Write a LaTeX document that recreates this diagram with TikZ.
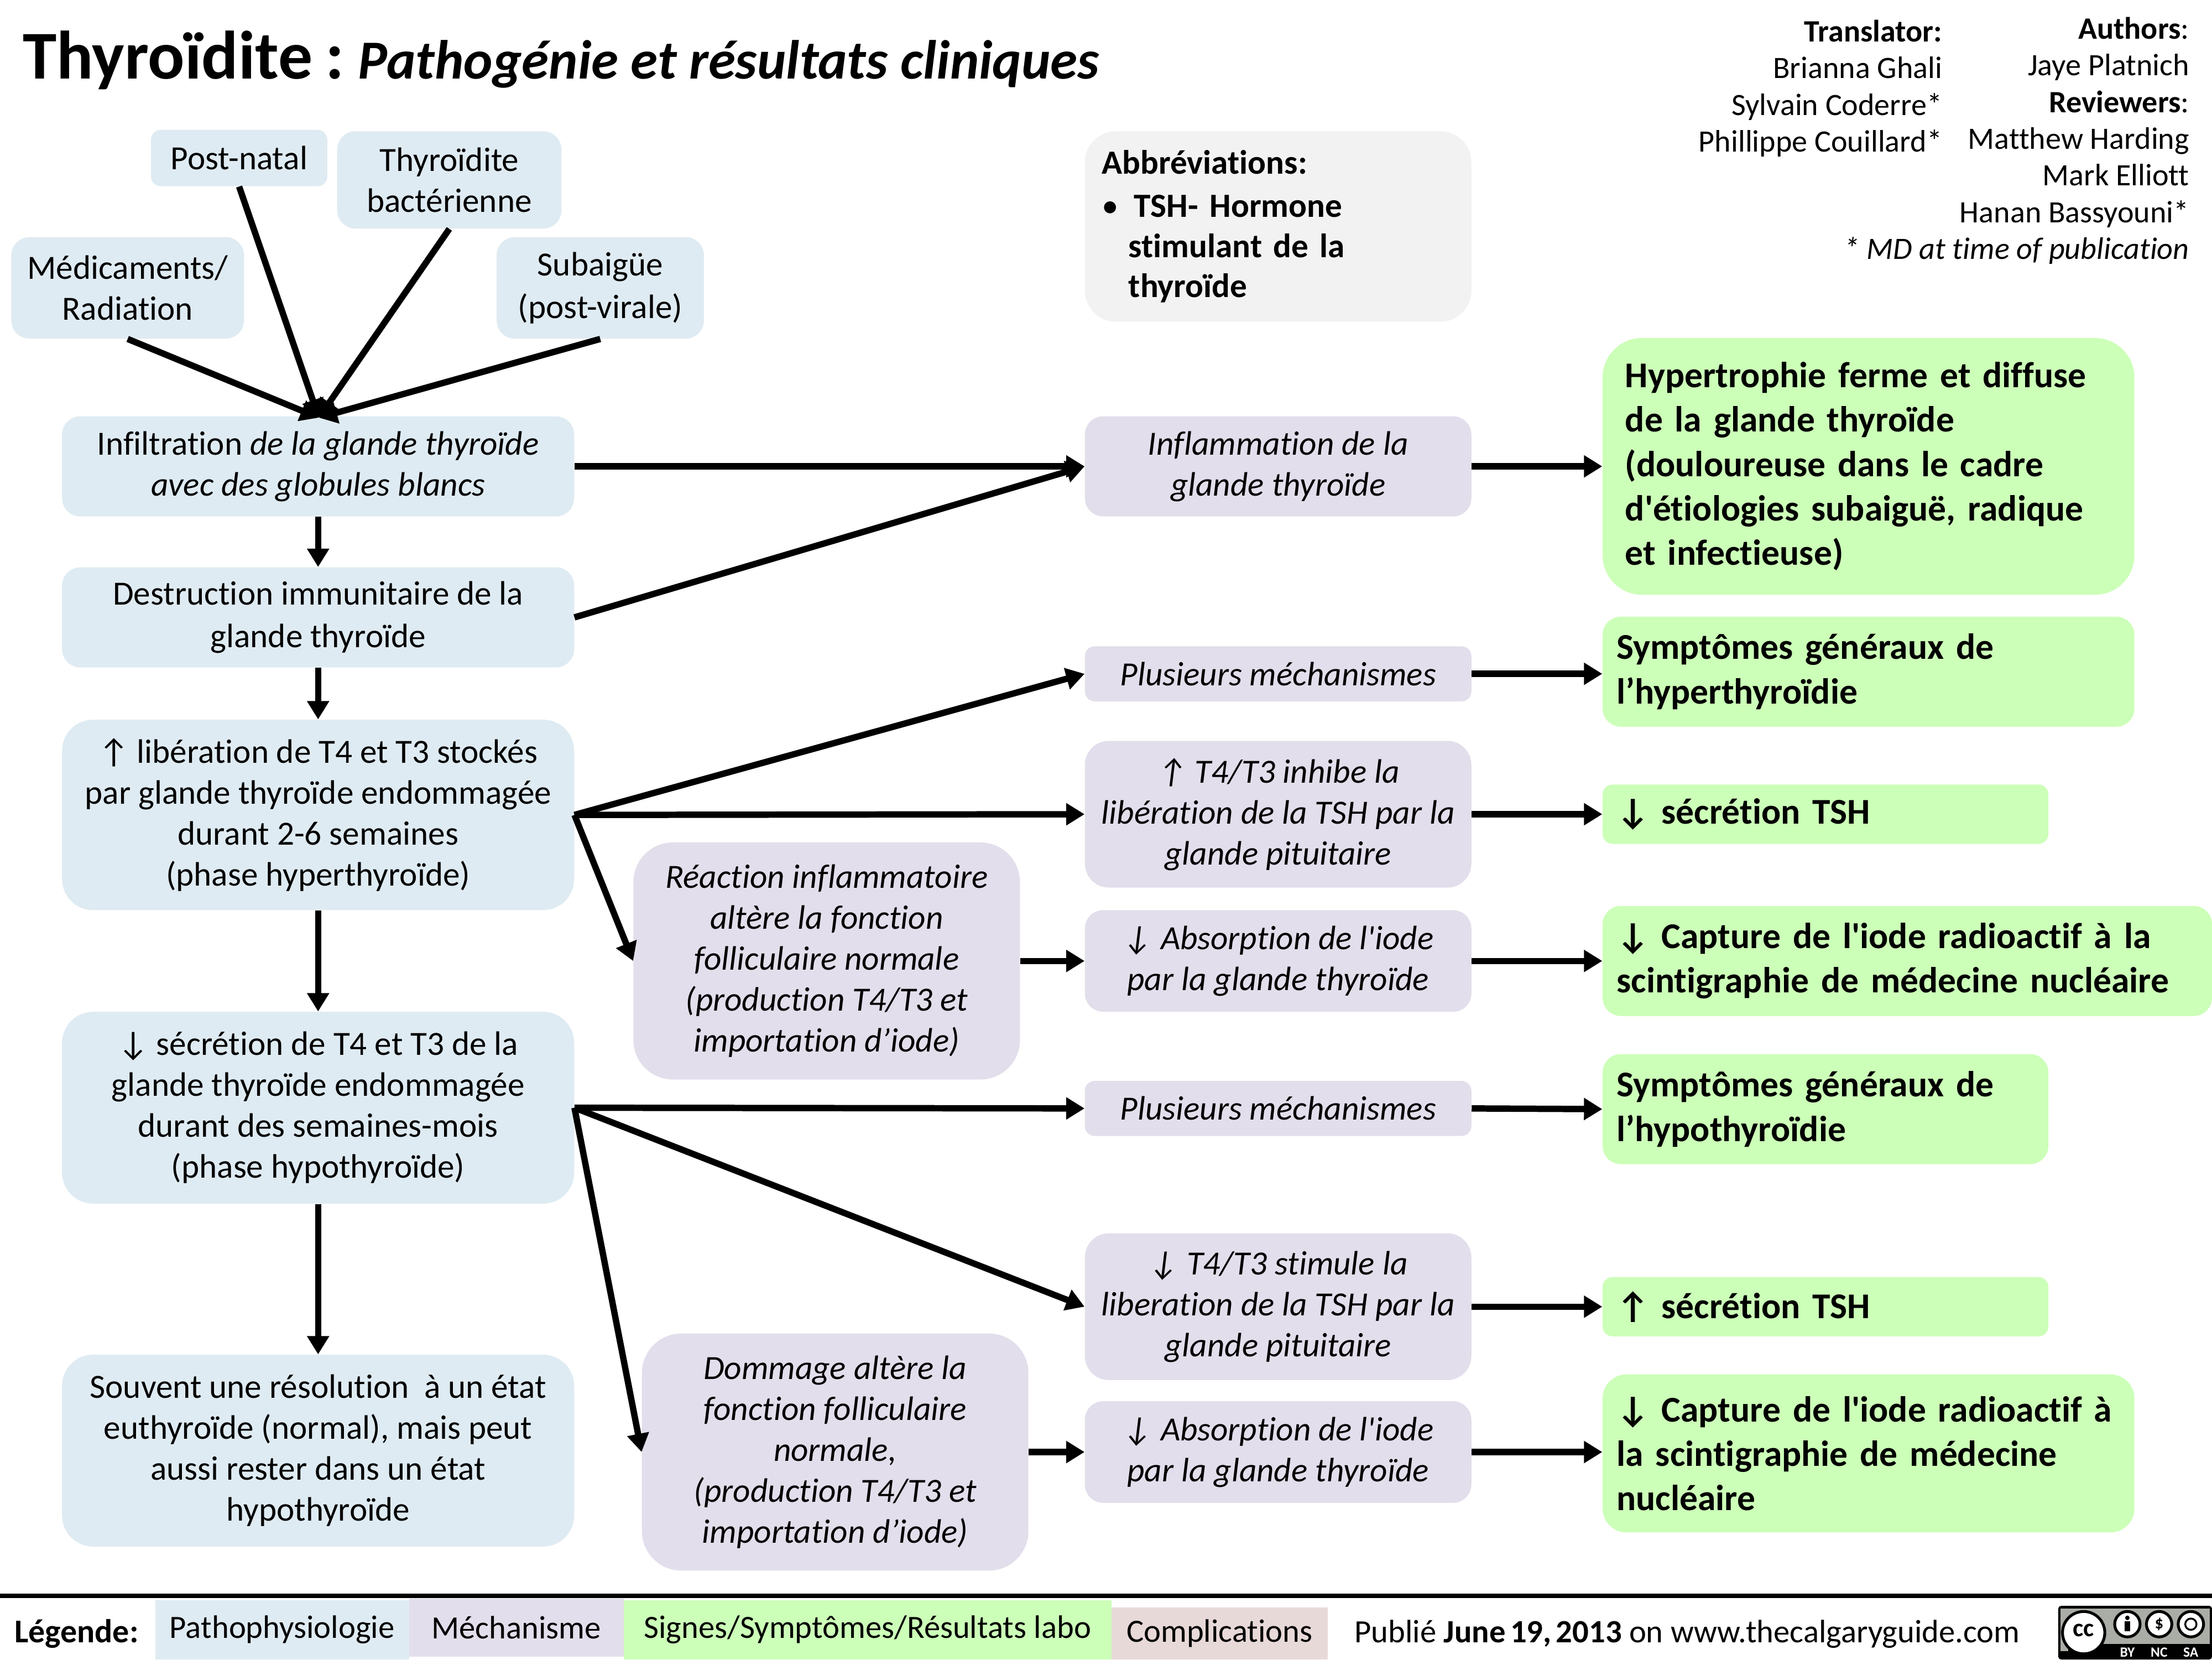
\documentclass[tikz,border=0pt]{standalone}
\usepackage{fontspec}
\setmainfont{Carlito}[Ligatures=NoCommon, BoldFeatures={WordSpace=0.62}]
\usetikzlibrary{arrows.meta}
\definecolor{pathocol}{HTML}{DFEBF2}
\definecolor{mechcol}{HTML}{E3DEEB}
\definecolor{signcol}{HTML}{CCFFB8}
\definecolor{compcol}{HTML}{E8D9D9}
\definecolor{abbrcol}{HTML}{F2F2F2}
\definecolor{badgecol}{HTML}{A9ADA6}
\newcommand{\apos}{\textquotesingle}
\tikzset{
	box/.style={rounded corners=13pt, inner sep=0pt, align=center, font=\fontsize{24}{29}\selectfont},
	patho/.style={box, fill=pathocol},
	mech/.style={box, fill=mechcol, font=\fontsize{24}{29}\selectfont\itshape},
	sign/.style={box, fill=signcol, align=left, inner xsep=10pt, font=\fontsize{25.7}{31.5}\selectfont\bfseries},
	legbox/.style={inner sep=0pt, font=\fontsize{23}{28}\selectfont},
	credit/.style={inner sep=0pt, align=right, font=\fontsize{22}{26}\selectfont},
	flow/.style={line width=4.5pt, -{Triangle[length=13pt,width=15pt]}},
	badgering/.style={fill=white, draw=black, line width=2pt},
	badgetext/.style={inner sep=0pt, text=white, font=\fontsize{10}{10}\selectfont\bfseries},
}
\begin{document}
\begin{tikzpicture}[x=1pt, y=-1pt]
	\useasboundingbox (0,0) rectangle (1568,1176);

	\node[inner sep=0pt, anchor=base west] (title) at (16,56) {\fontsize{48.5}{50}\selectfont\bfseries Thyroïdite\hspace{9pt}:\hspace{10pt}\fontsize{39}{50}\selectfont\itshape Pathogénie et résultats cliniques};
	\node[credit, anchor=north east] (translator) at (1377,14) {\textbf{Translator:}\\Brianna Ghali\\Sylvain Coderre*\\Phillippe Couillard*};
	\node[credit, anchor=north east] (authors) at (1552,12) {\textbf{Authors}:\\Jaye Platnich\\\textbf{Reviewers}:\\Matthew Harding\\Mark Elliott\\Hanan Bassyouni*\\\textit{* MD at time of publication}};

	\node[patho, rounded corners=7pt, minimum width=125pt, minimum height=40pt] (postnatal) at (169.5,112) {Post-natal};
	\node[patho, minimum width=159pt, minimum height=69pt] (bact) at (318.5,127.5) {Thyroïdite\\bactérienne};
	\node[patho, minimum width=165pt, minimum height=72pt] (medic) at (90.5,204) {Médicaments/\\Radiation};
	\node[patho, minimum width=147pt, minimum height=72pt] (subai) at (425.5,204) {Subaigüe\\[1pt](post-virale)};
	\node[patho, minimum width=363pt, minimum height=71pt] (infil) at (225.5,330.5) {Infiltration \textit{de la glande thyroïde}\\\textit{avec des globules blancs}};
	\node[patho, minimum width=363pt, minimum height=71pt] (destr) at (225.5,437.5) {Destruction immunitaire de la\\[1pt]glande thyroïde};
	\node[patho, rounded corners=22pt, minimum width=363pt, minimum height=135pt] (liber) at (225.5,577.5) {↑ libération de T4 et T3 stockés\\par glande thyroïde endommagée\\durant 2-6 semaines\\(phase hyperthyroïde)};
	\node[patho, rounded corners=22pt, minimum width=363pt, minimum height=136pt] (secre) at (225.5,785) {↓ sécrétion de T4 et T3 de la\\glande thyroïde endommagée\\durant des semaines-mois\\(phase hypothyroïde)};
	\node[patho, rounded corners=22pt, minimum width=363pt, minimum height=136pt] (souvent) at (225.5,1028) {Souvent une résolution\ \ à un état\\euthyroïde (normal), mais peut\\aussi rester dans un état\\hypothyroïde};

	\node[mech, rounded corners=28pt, minimum width=274pt, minimum height=168pt] (react) at (586,681) {Réaction inflammatoire\\altère la fonction\\folliculaire normale\\(production T4/T3 et\\importation d’iode)};
	\node[mech, rounded corners=28pt, minimum width=274pt, minimum height=168pt] (domm) at (592,1029) {Dommage altère la\\fonction folliculaire\\normale,\\(production T4/T3 et\\importation d’iode)};

	\node[box, fill=abbrcol, rounded corners=22pt, align=left, inner xsep=12pt, text width=250pt, minimum height=135pt, font=\fontsize{24}{28.5}\selectfont\bfseries] (abbr) at (906,160.5) {Abbréviations:\\[2pt]{\mdseries •}\hspace{11pt}TSH- Hormone\\\hspace*{19pt}stimulant de la\\\hspace*{19pt}thyroïde};
	\node[mech, minimum width=274pt, minimum height=71pt] (inflam) at (906,330.5) {Inflammation de la\\glande thyroïde};
	\node[mech, rounded corners=7pt, minimum width=274pt, minimum height=39pt] (plus1) at (906,477.5) {Plusieurs méchanismes};
	\node[mech, rounded corners=17pt, minimum width=274pt, minimum height=104pt] (inhibe) at (906,577) {↑ T4/T3 inhibe la\\libération de la TSH par la\\glande pituitaire};
	\node[mech, minimum width=274pt, minimum height=72pt] (abs1) at (906,681) {↓ Absorption de l\apos iode\\par la glande thyroïde};
	\node[mech, rounded corners=7pt, minimum width=274pt, minimum height=39pt] (plus2) at (906,785.5) {Plusieurs méchanismes};
	\node[mech, rounded corners=17pt, minimum width=274pt, minimum height=104pt] (stimu) at (906,926) {↓ T4/T3 stimule la\\liberation de la TSH par la\\glande pituitaire};
	\node[mech, minimum width=274pt, minimum height=72pt] (abs2) at (906,1029) {↓ Absorption de l\apos iode\\par la glande thyroïde};

	\node[sign, rounded corners=28pt, inner xsep=16pt, text width=345pt, minimum height=182pt] (hypert) at (1324.5,330.5) {Hypertrophie ferme et diffuse\\de la glande thyroïde\\(douloureuse dans le cadre\\d\apos étiologies subaiguë, radique\\et infectieuse)};
	\node[sign, text width=357pt, minimum height=78pt] (sympt1) at (1324.5,476) {Symptômes généraux de\\l’hyperthyroïdie};
	\node[sign, rounded corners=7pt, text width=296pt, minimum height=42pt] (tsh1) at (1294,577) {↓ sécrétion TSH};
	\node[sign, text width=412pt, minimum height=78pt] (capt1) at (1352,681) {↓ Capture de l\apos iode radioactif à la\\scintigraphie de médecine nucléaire};
	\node[sign, text width=296pt, minimum height=78pt] (sympt2) at (1294,786) {Symptômes généraux de\\l’hypothyroïdie};
	\node[sign, rounded corners=7pt, text width=296pt, minimum height=42pt] (tsh2) at (1294,926) {↑ sécrétion TSH};
	\node[sign, rounded corners=17pt, text width=357pt, minimum height=112pt] (capt2) at (1324.5,1030) {↓ Capture de l\apos iode radioactif à\\la scintigraphie de médecine\\nucléaire};

	\draw[flow] (medic.south) -- (226,296);
	\draw[flow] (postnatal.south) -- (226,296);
	\draw[flow] (bact.south) -- (226,296);
	\draw[flow] (subai.south) -- (226,296);

	\draw[flow] (infil.east) -- (inflam.west);
	\draw[flow] (infil.south) -- (destr.north);
	\draw[flow] (destr.south) -- (liber.north);
	\draw[flow] (liber.south) -- (secre.north);
	\draw[flow] (secre.south) -- (souvent.north);
	\draw[flow] (destr.east) -- (inflam.west);
	\draw[flow] (liber.east) -- (plus1.west);
	\draw[flow] (liber.east) -- (inhibe.west);
	\draw[flow] (liber.east) -- (react.west);
	\draw[flow] (secre.east) -- (plus2.west);
	\draw[flow] (secre.east) -- (stimu.west);
	\draw[flow] (secre.east) -- (domm.west);
	\draw[flow] (react.east) -- (abs1.west);
	\draw[flow] (domm.east) -- (abs2.west);

	\draw[flow] (inflam.east) -- (hypert.west);
	\draw[flow] (plus1.east) -- (sympt1.west |- plus1.east);
	\draw[flow] (inhibe.east) -- (tsh1.west);
	\draw[flow] (abs1.east) -- (capt1.west);
	\draw[flow] (plus2.east) -- (sympt2.west);
	\draw[flow] (stimu.east) -- (tsh2.west);
	\draw[flow] (abs2.east) -- (capt2.west |- abs2.east);

	\draw[line width=3pt] (0,1131) -- (1568,1131);
	\node[legbox, anchor=base west, font=\fontsize{23.5}{28}\selectfont\bfseries] (legend) at (10,1164) {Légende:};
	\node[legbox, fill=pathocol, minimum width=180pt, minimum height=42pt] (legpatho) at (200,1155) {Pathophysiologie};
	\node[legbox, fill=mechcol, minimum width=152pt, minimum height=41pt] (legmech) at (366,1153.5) {Méchanisme};
	\node[legbox, fill=signcol, minimum width=346pt, minimum height=42pt] (legsign) at (615,1155) {Signes/Symptômes/Résultats labo};
	\node[legbox, fill=compcol, minimum width=153pt, minimum height=37pt] (legcomp) at (864.5,1157.5) {Complications};
	\node[legbox, anchor=base west] (publi) at (960,1164) {Publié \textbf{June 19, 2013} on www.thecalgaryguide.com};

	\fill[rounded corners=2pt, black] (1459,1138) rectangle (1568,1176);
	\fill[badgecol] (1460.5,1140) rectangle (1566.5,1165);
	\fill[badgecol] (1460.5,1165) rectangle (1466,1170);
	\draw[badgering] (1477,1157) circle (15pt);
	\node[inner sep=0pt, font=\fontsize{18}{18}\selectfont\bfseries] (badgecc) at (1477,1155.5) {cc};
	\draw[badgering] (1508,1151) circle (9pt);
	\draw[badgering] (1530.5,1151) circle (9pt);
	\draw[badgering] (1553,1151) circle (9pt);
	\fill (1508,1146.5) circle (1.6pt);
	\fill (1506,1149) rectangle (1510,1156);
	\node[inner sep=0pt, font=\fontsize{12}{12}\selectfont\bfseries] (badgedol) at (1530.5,1151) {\$};
	\draw[line width=1.3pt] (1553,1151) circle (4pt);
	\node[badgetext] (badgeby) at (1508,1171) {BY};
	\node[badgetext] (badgenc) at (1530.5,1171) {NC};
	\node[badgetext] (badgesa) at (1553,1171) {SA};
\end{tikzpicture}
\end{document}
